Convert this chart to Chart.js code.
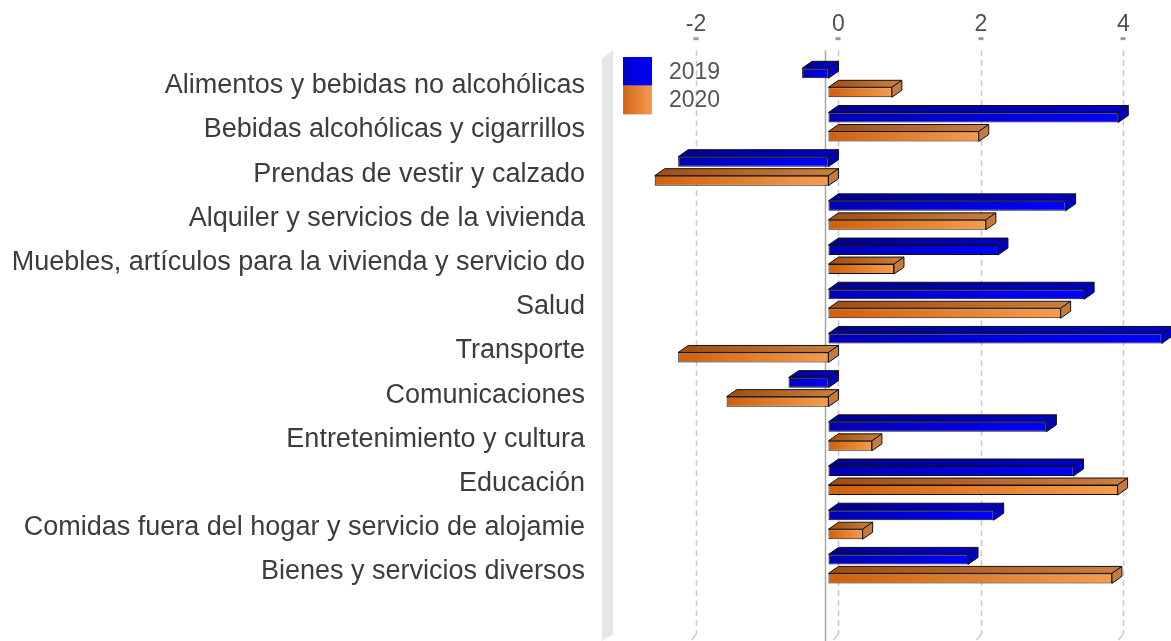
<!DOCTYPE html>
<html>
<head>
<meta charset="utf-8">
<script src="https://cdn.jsdelivr.net/npm/chart.js@4.4.1/dist/chart.umd.min.js"></script>
<style>
  html, body { margin: 0; padding: 0; background: #ffffff; overflow: hidden; }
  #wrap { width: 1171px; height: 641px; position: relative; }
</style>
</head>
<body>
<div id="wrap"><canvas id="chart" width="1171" height="641"></canvas></div>
<script>
// Spending categories (top to bottom)
const categories = [
  'Alimentos y bebidas no alcohólicas',
  'Bebidas alcohólicas y cigarrillos',
  'Prendas de vestir y calzado',
  'Alquiler y servicios de la vivienda',
  'Muebles, artículos para la vivienda y servicio do',
  'Salud',
  'Transporte',
  'Comunicaciones',
  'Entretenimiento y cultura',
  'Educación',
  'Comidas fuera del hogar y servicio de alojamie',
  'Bienes y servicios diversos'
];

// Yearly variation per category
const values2019 = [-0.37, 4.07, -2.11, 3.33, 2.38, 3.59, 4.68, -0.56, 3.06, 3.44, 2.32, 1.96];
const values2020 = [0.89, 2.11, -2.44, 2.21, 0.92, 3.26, -2.11, -1.43, 0.61, 4.06, 0.48, 3.98];

const seriesNames = ['2019', '2020'];
const xTickValues = [-2, 0, 2, 4];
const xMin = -3.18;
const xMax = 4.81;

// Depth of the pseudo-3D extrusion
const DEPTH_X = 10;
const DEPTH_Y = 7;
const FONT = '"Liberation Sans", Arial, Helvetica, sans-serif';

const palettes = [
  { front: ['#0000b2', '#0000ff'], top: ['#00008e', '#0000c2'], side: '#0000c4', legend: ['#0000c8', '#0000ff'] },
  { front: ['#d0600c', '#f69c4c'], top: ['#a24c10', '#c98040'], side: '#c67a3c', legend: ['#d2661a', '#f59c50'] }
];

function hGradient(g, l, r, stops) {
  const grad = g.createLinearGradient(l, 0, Math.max(r, l + 1), 0);
  grad.addColorStop(0, stops[0]);
  grad.addColorStop(1, stops[1]);
  return grad;
}

function frontFill(ctx) {
  const pal = palettes[ctx.datasetIndex];
  const chart = ctx.chart;
  if (!chart.chartArea || ctx.raw === undefined) return pal.front[1];
  const xs = chart.scales.x;
  const a = xs.getPixelForValue(0), b = xs.getPixelForValue(ctx.raw);
  return hGradient(chart.ctx, Math.min(a, b), Math.max(a, b), pal.front);
}

// Back wall, dashed grid and zero line
const backdrop = {
  id: 'backdrop',
  beforeDatasetsDraw(chart) {
    const g = chart.ctx;
    const { left, top } = chart.chartArea;
    const H = chart.height;
    const xs = chart.scales.x;
    g.save();
    // side wall
    g.fillStyle = '#e6e6e6';
    g.beginPath();
    g.moveTo(left, top - 2.5);
    g.lineTo(left + 11, top - 10.5);
    g.lineTo(left + 11, H - 7);
    g.lineTo(left, H);
    g.closePath();
    g.fill();
    // dashed vertical grid lines on the back plane
    xTickValues.forEach(v => {
      const xb = Math.round(xs.getPixelForValue(v) + DEPTH_X) + 0.5;
      g.strokeStyle = '#cccccc';
      g.lineWidth = 1.6;
      g.setLineDash([6, 4]);
      g.beginPath();
      g.moveTo(xb, top - 10.5);
      g.lineTo(xb, H - 7);
      g.stroke();
      g.setLineDash([]);
      g.beginPath();
      g.moveTo(xb, H - 7);
      g.lineTo(xb - 5, H - 1);
      g.stroke();
      // small tick mark under each label
      g.fillStyle = '#9a9a9a';
      g.fillRect(xb - 3, top - 23.5, 5, 3);
    });
    // zero line
    const xz = Math.round(xs.getPixelForValue(0) - 3) + 0.5;
    g.strokeStyle = '#a8a8a8';
    g.lineWidth = 1.5;
    g.beginPath();
    g.moveTo(xz, top - 10.5);
    g.lineTo(xz, H);
    g.stroke();
    g.restore();
  }
};

// Top and side faces of each bar
const extrude = {
  id: 'extrude',
  afterDatasetsDraw(chart) {
    const g = chart.ctx;
    g.save();
    g.lineWidth = 1;
    g.strokeStyle = '#111111';
    g.lineJoin = 'miter';
    chart.data.datasets.forEach((ds, di) => {
      const pal = palettes[di];
      chart.getDatasetMeta(di).data.forEach(bar => {
        const p = bar.getProps(['x', 'y', 'base', 'height'], true);
        const l = Math.min(p.x, p.base), r = Math.max(p.x, p.base);
        const t = p.y - p.height / 2, b = p.y + p.height / 2;
        // top face
        g.fillStyle = hGradient(g, l, r + DEPTH_X, pal.top);
        g.beginPath();
        g.moveTo(l, t);
        g.lineTo(l + DEPTH_X, t - DEPTH_Y);
        g.lineTo(r + DEPTH_X, t - DEPTH_Y);
        g.lineTo(r, t);
        g.closePath();
        g.fill();
        g.stroke();
        // side face
        g.fillStyle = pal.side;
        g.beginPath();
        g.moveTo(r, t);
        g.lineTo(r + DEPTH_X, t - DEPTH_Y);
        g.lineTo(r + DEPTH_X, b - DEPTH_Y);
        g.lineTo(r, b);
        g.closePath();
        g.fill();
        g.stroke();
      });
    });
    g.restore();
  }
};

// Legend in the upper-left corner of the plot
const cornerLegend = {
  id: 'cornerLegend',
  afterDraw(chart) {
    const g = chart.ctx;
    const { left, top } = chart.chartArea;
    const x0 = left + 21, y0 = top - 3.7, w = 29, h = 28.7;
    g.save();
    chart.data.datasets.forEach((ds, i) => {
      const y = y0 + i * h;
      g.fillStyle = hGradient(g, x0, x0 + w, palettes[i].legend);
      g.fillRect(x0, y, w, h);
      g.fillStyle = '#555555';
      g.font = '23px ' + FONT;
      g.textBaseline = 'middle';
      g.textAlign = 'left';
      g.fillText(ds.label, x0 + 46, y + h / 2 + 1);
    });
    g.restore();
  }
};

const barStyle = {
  backgroundColor: frontFill,
  borderColor: '#111111',
  borderWidth: 1,
  borderSkipped: false,
  categoryPercentage: 0.86,
  barPercentage: 0.526
};

new Chart(document.getElementById('chart'), {
  type: 'bar',
  data: {
    labels: categories,
    datasets: [
      Object.assign({ label: seriesNames[0], data: values2019 }, barStyle),
      Object.assign({ label: seriesNames[1], data: values2020 }, barStyle)
    ]
  },
  options: {
    indexAxis: 'y',
    responsive: false,
    animation: false,
    devicePixelRatio: 1,
    layout: { padding: { left: 0, right: 0, top: 0, bottom: 50 } },
    plugins: {
      legend: { display: false },
      tooltip: { enabled: false },
      colors: { enabled: false }
    },
    scales: {
      x: {
        type: 'linear',
        position: 'top',
        min: xMin,
        max: xMax,
        afterBuildTicks: s => { s.ticks = xTickValues.map(v => ({ value: v })); },
        afterFit: s => { s.height = 60.7; },
        grid: { display: false, drawTicks: false },
        border: { display: false },
        ticks: {
          font: { family: FONT, size: 23 },
          color: '#505050',
          padding: 22,
          labelOffset: DEPTH_X,
          maxRotation: 0,
          autoSkip: false
        }
      },
      y: {
        type: 'category',
        afterFit: s => { s.width = 602; },
        grid: { display: false, drawTicks: false },
        border: { display: false },
        ticks: {
          font: { family: FONT, size: 27 },
          color: '#3c3c3c',
          padding: 17,
          labelOffset: 3,
          autoSkip: false
        }
      }
    }
  },
  plugins: [backdrop, extrude, cornerLegend]
});
</script>
</body>
</html>
